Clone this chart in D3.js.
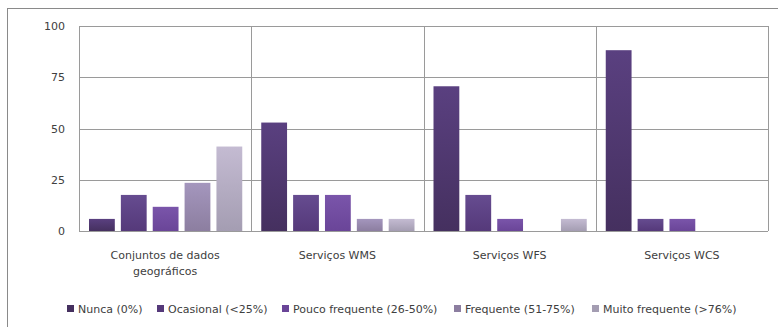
<!DOCTYPE html>
<html><head><meta charset="utf-8">
<script src="https://cdn.jsdelivr.net/npm/d3@7"></script>
<style>body{margin:0;background:#fff}svg{display:block}text{font-family:"DejaVu Sans",sans-serif;fill:#404040}</style>
</head><body><svg id="c" width="778" height="327"></svg>
<script>
const categories = [["Conjuntos de dados","geográficos"],["Serviços WMS"],["Serviços WFS"],["Serviços WCS"]];
const seriesNames = ["Nunca (0%)","Ocasional (<25%)","Pouco frequente (26-50%)","Frequente (51-75%)","Muito frequente (>76%)"];
const nunca      = [5.9, 52.9, 70.6, 88.2];
const ocasional  = [17.6, 17.6, 17.6, 5.9];
const pouco      = [11.8, 17.6, 5.9, 5.9];
const frequente  = [23.5, 5.9, 0, 0];
const muito      = [41.2, 5.9, 5.9, 0];
const yTicks = [0,25,50,75,100];
const series = [nunca, ocasional, pouco, frequente, muito];
const colorsTop = ["#5a4080","#664c90","#7a55aa","#a496bd","#c4bbd2"];
const colorsBot = ["#45305f","#55397a","#6a4598","#8c7ea0","#a49db2"];
const legendX = [67,157,282,454,592];

const svg = d3.select("#c");
const defs = svg.append("defs");
colorsTop.forEach((c,i)=>{
  const g = defs.append("linearGradient").attr("id","g"+i).attr("x1",0).attr("y1",0).attr("x2",0).attr("y2",1);
  g.append("stop").attr("offset","0").attr("stop-color",c);
  g.append("stop").attr("offset","1").attr("stop-color",colorsBot[i]);
});
// outer border
svg.append("rect").attr("x",7.5).attr("y",8.5).attr("width",800).attr("height",400).attr("fill","none").attr("stroke","#8a8a8a");

const L=79, R=768, T=26, B=231;
const x0 = d3.scaleBand().domain(d3.range(categories.length)).range([L,R]).padding(0);
const x1 = d3.scaleBand().domain(d3.range(series.length)).range([10, x0.bandwidth()-9]).paddingInner(0.19).paddingOuter(0);
const y = d3.scaleLinear().domain([0,100]).range([B,T]);

const grid = svg.append("g");
yTicks.forEach(t=>{
  grid.append("line").attr("x1",L).attr("x2",R).attr("y1",Math.round(y(t))+0.5).attr("y2",Math.round(y(t))+0.5).attr("stroke","#9a9a9a");
});
d3.range(categories.length+1).forEach(i=>{
  const xx = i<categories.length ? x0(i) : R;
  grid.append("line").attr("x1",Math.round(xx)+0.5).attr("x2",Math.round(xx)+0.5).attr("y1",T).attr("y2",B).attr("stroke","#9a9a9a");
});

const yAxis = d3.axisLeft(y).tickValues(yTicks).tickSize(0).tickPadding(14);
const ya = svg.append("g").attr("transform",`translate(${L},0)`).call(yAxis);
ya.select(".domain").remove();
ya.selectAll("text").style("font-size","11px").style("font-family","DejaVu Sans").attr("fill","#404040");

categories.forEach((cat,ci)=>{
  series.forEach((s,si)=>{
    const v = s[ci];
    if(v<=0) return;
    svg.append("rect").attr("x",x0(ci)+x1(si)).attr("width",x1.bandwidth())
      .attr("y",y(v)).attr("height",y(0)-y(v)).attr("fill",`url(#g${si})`);
  });
  const t = svg.append("text").attr("text-anchor","middle").style("font-size","11px");
  cat.forEach((line,li)=>{
    t.append("tspan").attr("x",x0(ci)+x0.bandwidth()/2).attr("y",259+li*16).text(line);
  });
});

const lg = svg.append("g");
seriesNames.forEach((n,i)=>{
  lg.append("rect").attr("x",legendX[i]).attr("y",305).attr("width",7).attr("height",7).attr("fill",colorsBot[i]);
  lg.append("text").attr("x",legendX[i]+11).attr("y",313).style("font-size","11px").text(n);
});
</script></body></html>
